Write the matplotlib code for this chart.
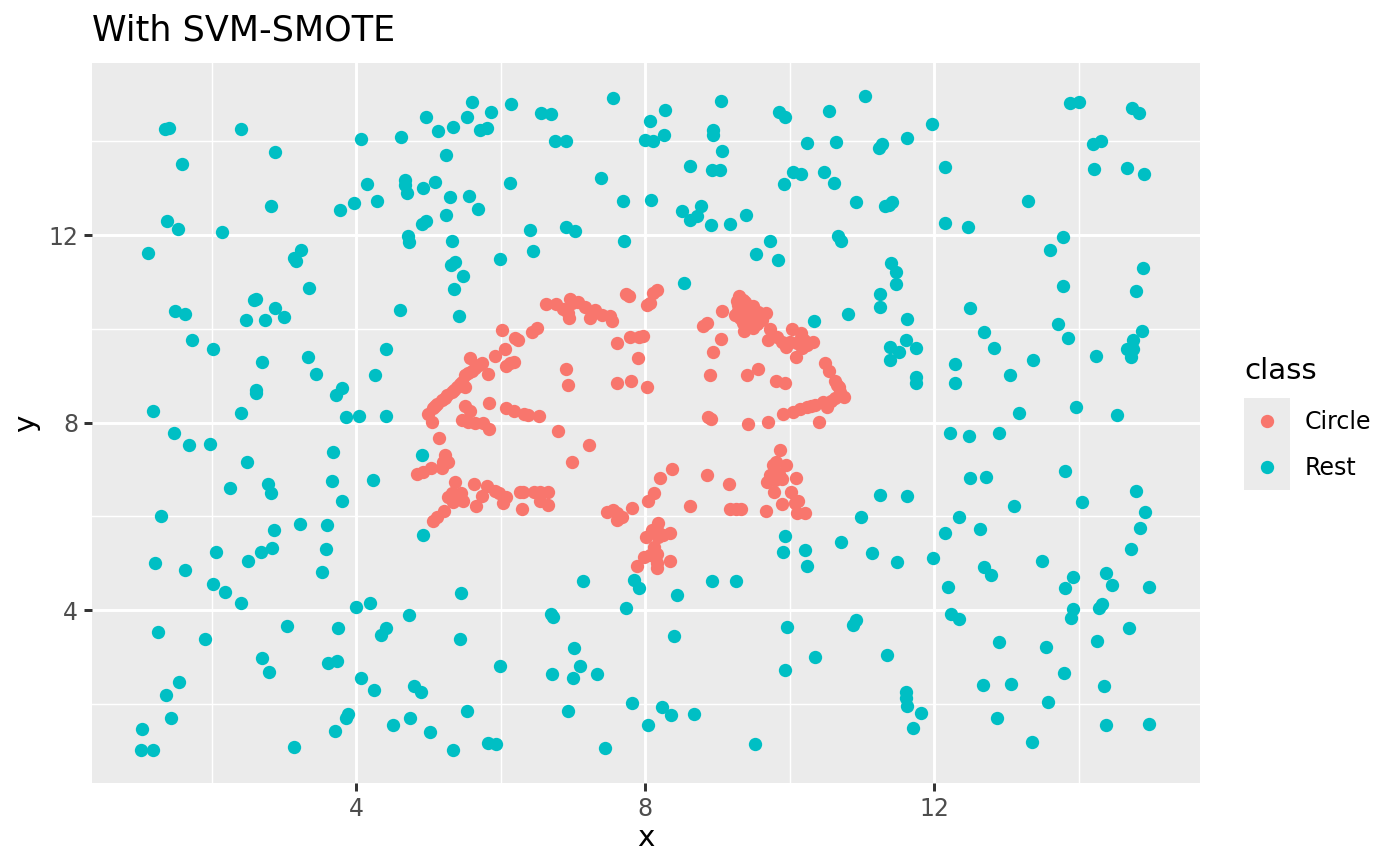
#!/usr/bin/env python3
"""Scatter of the circle class and the rest after SVM-SMOTE, ggplot look."""

import matplotlib
matplotlib.use('Agg')
import matplotlib.pyplot as plt
import numpy as np

title = 'With SVM-SMOTE'
class_names = ['Circle', 'Rest']
class_colors = ['#F8766D', '#00BFC4']
major_ticks = [4, 8, 12]
minor_ticks = [2, 6, 10, 14]

circle_points = [
    (6.63, 10.53), (6.77, 10.53), (6.87, 10.42), (6.96, 10.64), (7.07, 10.57), (6.99, 10.55),
    (6.93, 10.34), (6.95, 10.23), (6.91, 10.40), (7.17, 10.46), (7.31, 10.40), (7.24, 10.23),
    (7.40, 10.29), (7.52, 10.27), (7.54, 10.17), (7.74, 10.74), (7.78, 10.70), (6.02, 9.97),
    (6.51, 10.02), (6.44, 9.93), (6.20, 9.80), (6.24, 9.76), (6.06, 9.57), (5.92, 9.42),
    (6.19, 9.29), (6.08, 9.21), (6.13, 9.27), (5.00, 8.18), (5.07, 8.31), (5.19, 8.48),
    (5.26, 8.59), (5.33, 8.65), (5.40, 8.76), (5.47, 8.87), (5.51, 9.02), (5.55, 9.06),
    (5.65, 9.16), (5.74, 9.27), (5.58, 9.38), (5.51, 8.76), (5.83, 9.04), (5.05, 8.01),
    (5.09, 8.35), (5.51, 8.35), (5.58, 8.25), (5.84, 8.42), (5.47, 8.06), (5.55, 8.01),
    (5.65, 7.99), (5.76, 7.99), (5.84, 7.86), (6.08, 8.31), (6.19, 8.25), (6.33, 8.18),
    (6.38, 8.16), (6.53, 8.14), (6.80, 7.82), (6.91, 9.14), (6.93, 8.80), (7.61, 9.70),
    (7.79, 9.83), (7.92, 9.83), (7.90, 9.38), (7.61, 8.84), (7.81, 8.89), (8.03, 8.76),
    (7.97, 9.85), (8.17, 10.83), (8.11, 10.76), (8.07, 10.55), (8.03, 10.51), (9.07, 10.38),
    (8.80, 10.06), (8.86, 10.12), (9.05, 9.78), (8.94, 9.51), (8.90, 9.01), (8.87, 8.12),
    (8.91, 8.08), (9.41, 9.01), (9.56, 9.14), (9.43, 7.97), (9.70, 8.01), (9.81, 8.89),
    (9.94, 8.84), (9.30, 10.70), (9.36, 10.61), (9.29, 10.51), (9.41, 10.51), (9.48, 10.40),
    (9.25, 10.29), (9.34, 10.34), (9.41, 10.25), (9.52, 10.25), (9.67, 10.34), (9.31, 10.44),
    (9.45, 10.19), (9.55, 10.10), (9.62, 10.19), (9.37, 9.95), (9.36, 10.12), (9.73, 10.00),
    (9.70, 9.76), (9.83, 9.83), (9.95, 9.61), (9.90, 9.72), (10.03, 10.00), (10.16, 9.91),
    (10.01, 9.72), (10.15, 9.76), (10.33, 9.72), (10.24, 9.66), (10.17, 9.59), (10.09, 9.40),
    (10.49, 9.27), (10.55, 9.10), (10.63, 8.89), (10.69, 8.76), (10.75, 8.55), (10.63, 8.52),
    (10.52, 8.33), (10.46, 8.44), (10.35, 8.38), (10.24, 8.33), (10.15, 8.29), (10.05, 8.23),
    (9.91, 8.18), (10.41, 8.01), (5.15, 7.67), (5.23, 7.31), (5.20, 7.16), (5.27, 7.16),
    (5.19, 7.03), (5.04, 7.03), (4.93, 6.95), (4.84, 6.90), (5.37, 6.73), (5.63, 6.69),
    (5.81, 6.65), (5.74, 6.44), (5.92, 6.54), (5.98, 6.50), (6.08, 6.41), (6.03, 6.29),
    (5.66, 6.22), (5.33, 6.50), (5.27, 6.41), (5.34, 6.31), (5.45, 6.50), (5.48, 6.33),
    (5.40, 6.39), (6.27, 6.52), (6.31, 6.52), (6.46, 6.52), (6.55, 6.52), (6.66, 6.52),
    (6.55, 6.33), (6.66, 6.24), (6.30, 6.16), (6.99, 7.16), (7.22, 7.52), (5.22, 6.12),
    (5.12, 5.99), (5.07, 5.90), (7.47, 6.09), (7.56, 6.13), (7.61, 6.07), (7.61, 5.92),
    (7.68, 5.99), (7.82, 6.18), (9.87, 7.42), (9.81, 7.16), (9.77, 7.10), (9.95, 7.10),
    (9.69, 6.73), (9.73, 6.88), (9.80, 6.95), (9.90, 6.80), (9.80, 6.78), (10.09, 6.82),
    (9.79, 6.52), (10.02, 6.52), (9.90, 6.26), (10.12, 6.33), (10.08, 6.29), (10.10, 6.07),
    (10.21, 6.07), (9.67, 6.12), (9.16, 6.69), (8.86, 6.88), (8.37, 7.01), (8.21, 6.82),
    (8.12, 6.50), (8.04, 6.33), (8.62, 6.22), (9.18, 6.16), (9.26, 6.16), (9.33, 6.16),
    (8.18, 5.86), (8.10, 5.71), (8.01, 5.56), (8.18, 5.56), (8.25, 5.60), (8.35, 5.65),
    (8.17, 5.71), (8.12, 5.35), (8.17, 5.20), (8.07, 5.18), (7.99, 5.14), (7.89, 4.94),
    (8.17, 5.01), (8.17, 4.90), (8.35, 5.05), (9.38, 10.58), (9.45, 10.45), (9.38, 10.40),
    (9.28, 10.38), (9.50, 10.32), (9.42, 10.33), (5.12, 8.40), (5.23, 8.53), (5.36, 8.70),
    (5.44, 8.82), (5.60, 9.10), (5.70, 9.22), (10.30, 8.35), (10.58, 8.45), (10.70, 8.65),
    (10.66, 8.80), (10.10, 9.70), (10.20, 9.75), (9.75, 6.85), (9.85, 6.90), (9.50, 10.48),
    (9.56, 10.36), (9.60, 10.28), (9.48, 10.15), (9.40, 10.05), (9.32, 10.22), (9.27, 10.60),
    (9.33, 10.56), (9.58, 10.22), (9.50, 10.02),
]

rest_points = [
    (1.12, 11.61), (1.38, 12.30), (1.54, 12.13), (1.36, 14.26), (1.41, 14.28), (1.59, 13.51),
    (2.15, 12.07), (2.41, 14.26), (2.88, 13.77), (2.82, 12.62), (1.49, 10.38), (1.63, 10.32),
    (1.73, 9.76), (2.02, 9.57), (2.48, 10.19), (2.59, 10.61), (2.62, 10.64), (2.74, 10.19),
    (2.88, 10.44), (3.00, 10.25), (2.70, 9.29), (3.14, 11.51), (3.17, 11.44), (3.24, 11.68),
    (3.35, 10.87), (3.34, 9.40), (3.45, 9.04), (3.78, 12.53), (3.97, 12.68),
    (4.29, 12.72), (4.07, 14.05), (4.15, 13.09), (4.62, 14.09), (4.68, 13.17), (4.68, 13.07),
    (4.71, 12.89), (4.93, 13.00), (5.09, 13.13), (4.97, 14.52), (5.13, 14.22), (5.34, 14.31),
    (5.54, 14.52), (5.61, 14.84), (5.72, 14.24), (5.81, 14.28), (5.87, 14.62), (6.15, 14.79),
    (6.56, 14.60), (6.70, 14.58), (6.75, 14.00), (6.91, 14.00), (7.56, 14.92), (7.39, 13.22),
    (5.25, 13.70), (5.30, 12.81), (5.56, 12.83), (5.69, 12.55), (5.25, 12.43), (6.13, 13.11),
    (4.72, 11.98), (4.73, 11.85), (4.91, 12.23), (4.97, 12.30), (5.33, 11.87), (5.31, 11.36),
    (5.37, 11.42), (5.48, 11.13), (5.36, 10.85), (5.43, 10.27), (4.61, 10.40), (5.99, 11.49),
    (6.41, 12.11), (6.45, 11.66), (6.91, 12.17), (7.03, 12.08), (7.70, 12.73), (7.71, 11.87),
    (8.08, 12.75), (8.07, 14.43), (8.26, 14.13), (8.28, 14.66), (8.00, 14.03), (8.11, 14.01),
    (8.62, 13.47), (8.94, 14.24), (8.94, 14.13), (9.05, 14.86), (9.07, 13.79), (8.93, 13.39),
    (9.04, 13.39), (8.51, 12.51), (8.62, 12.32), (8.72, 12.40), (8.78, 12.62), (8.91, 12.22),
    (9.18, 12.24), (9.40, 12.43), (8.54, 10.97), (9.54, 11.60), (9.73, 11.87), (9.84, 11.47),
    (9.85, 14.62), (9.94, 14.51), (9.92, 13.09), (10.05, 13.34), (10.16, 13.30), (10.24, 13.96),
    (10.48, 13.34), (10.62, 13.11), (10.55, 14.64), (10.64, 13.98), (11.05, 14.96), (10.92, 12.70),
    (10.67, 11.98), (10.71, 11.87), (10.34, 10.17), (10.81, 10.32), (11.24, 13.85), (11.28, 13.94),
    (11.63, 14.07), (11.97, 14.36), (12.15, 13.45), (11.32, 12.62), (11.38, 12.64), (11.42, 12.70),
    (12.15, 12.25), (12.47, 12.17), (11.40, 11.40), (11.47, 11.21), (11.47, 10.95), (11.25, 10.74),
    (11.25, 10.47), (11.63, 10.21), (12.50, 10.44), (11.39, 9.61), (11.39, 9.33), (11.51, 9.50),
    (11.61, 9.76), (11.75, 9.59), (11.75, 8.97), (11.75, 8.84), (12.29, 9.25), (12.29, 8.84),
    (12.69, 9.93), (12.83, 9.59), (13.05, 9.01), (13.37, 9.33), (13.18, 8.20), (13.30, 12.72),
    (13.61, 11.68), (13.79, 11.96), (13.79, 10.91), (13.72, 10.10), (13.85, 9.80), (13.88, 14.81),
    (14.01, 14.83), (14.20, 13.94), (14.31, 14.01), (14.21, 13.41), (14.67, 13.43), (14.74, 14.71),
    (14.84, 14.60), (14.91, 13.30), (14.89, 11.30), (14.80, 10.81), (14.88, 9.95), (14.75, 9.76),
    (14.67, 9.57), (14.75, 9.57), (14.73, 9.40), (14.24, 9.42), (13.97, 8.33), (14.53, 8.16),
    (1.19, 8.25), (1.48, 7.78), (1.69, 7.52), (1.98, 7.54), (2.41, 8.20), (2.62, 8.70),
    (2.62, 8.63), (2.49, 7.16), (2.26, 6.61), (2.78, 6.69), (2.82, 6.50), (3.72, 8.59),
    (3.80, 8.74), (3.86, 8.12), (4.04, 8.14), (4.26, 9.01), (4.42, 9.57), (4.41, 8.14),
    (3.68, 7.37), (3.67, 6.76), (3.80, 6.33), (4.24, 6.78), (4.91, 7.31), (4.93, 5.60),
    (1.30, 6.01), (1.22, 5.01), (1.63, 4.86), (2.06, 5.24), (2.02, 4.56), (2.19, 4.39),
    (2.41, 4.15), (2.51, 5.05), (2.69, 5.24), (2.84, 5.33), (2.87, 5.71), (3.22, 5.84),
    (3.60, 5.82), (3.58, 5.31), (3.53, 4.81), (4.00, 4.07), (4.19, 4.15), (4.73, 3.90),
    (5.45, 4.37), (3.04, 3.66), (1.26, 3.54), (1.91, 3.39), (3.75, 3.62), (4.42, 3.62),
    (4.35, 3.47), (5.44, 3.39), (2.70, 2.98), (2.80, 2.68), (3.61, 2.87), (3.74, 2.92),
    (1.37, 2.19), (1.55, 2.47), (1.44, 1.70), (1.04, 1.47), (1.02, 1.02), (1.19, 1.02),
    (3.14, 1.08), (3.71, 1.42), (3.86, 1.70), (3.89, 1.79), (4.07, 2.55), (4.25, 2.30),
    (4.51, 1.55), (4.75, 1.70), (4.80, 2.38), (4.90, 2.26), (5.02, 1.40), (5.34, 1.02),
    (5.54, 1.85), (5.83, 1.17), (5.94, 1.15), (5.99, 2.81), (6.70, 3.92), (6.73, 3.86),
    (7.14, 4.62), (6.71, 2.64), (7.02, 3.19), (7.00, 2.55), (7.10, 2.81), (7.34, 2.64),
    (6.93, 1.85), (7.45, 1.06), (7.74, 4.05), (7.85, 4.64), (7.92, 4.47), (7.82, 2.02),
    (8.04, 1.55), (8.24, 1.94), (8.36, 1.77), (8.68, 1.79), (8.44, 4.32), (8.40, 3.45),
    (8.93, 4.62), (9.26, 4.62), (9.52, 1.15), (9.94, 5.58), (9.91, 5.24), (10.21, 5.28),
    (10.24, 4.94), (10.71, 5.45), (10.99, 5.99), (11.14, 5.22), (11.25, 6.46), (11.63, 6.44),
    (11.49, 5.03), (11.99, 5.11), (12.19, 4.49), (12.23, 3.92), (12.35, 3.81), (9.97, 3.64),
    (10.35, 3.00), (9.94, 2.73), (10.88, 3.68), (10.92, 3.79), (11.35, 3.05), (11.61, 2.26),
    (11.61, 2.13), (11.63, 1.96), (11.82, 1.81), (11.71, 1.49), (12.22, 7.78), (12.48, 7.71),
    (12.90, 7.78), (12.35, 5.99), (12.50, 6.82), (12.72, 6.84), (12.64, 5.73), (13.11, 6.22),
    (12.15, 5.65), (12.69, 4.92), (12.79, 4.75), (13.50, 5.05), (12.90, 3.32), (13.55, 3.22),
    (12.68, 2.41), (13.07, 2.43), (12.87, 1.70), (13.36, 1.19), (13.58, 2.04), (13.80, 2.66),
    (13.81, 4.47), (13.92, 4.71), (13.92, 4.03), (13.90, 3.83), (14.26, 3.34), (14.28, 4.05),
    (14.33, 4.13), (14.38, 4.79), (14.46, 4.54), (14.70, 3.62), (14.73, 5.31), (14.85, 5.75),
    (14.80, 6.54), (14.92, 6.09), (14.98, 4.49), (14.98, 1.57), (14.38, 1.55), (14.35, 2.38),
    (13.81, 6.97), (14.05, 6.31),
]

W, H = 1400, 866
PANEL = '#EBEBEB'
fig = plt.figure(figsize=(7, 4.33), dpi=200)
ax = fig.add_axes([92 / W, 1 - 783 / H, 1108 / W, 720 / H], facecolor=PANEL)

for name, color, points in zip(class_names, class_colors, [circle_points, rest_points]):
    xs, ys = np.array(points).T
    ax.scatter(xs, ys, s=23, color=color, linewidths=0, zorder=3, clip_on=True)

ax.set_xlim(0.346, 15.68)
ax.set_ylim(0.31, 15.67)

# ggplot grid: white major lines, thinner minor lines
ax.set_xticks(major_ticks)
ax.set_yticks(major_ticks)
ax.set_xticks(minor_ticks, minor=True)
ax.set_yticks(minor_ticks, minor=True)
ax.grid(True, which='major', color='white', linewidth=1.07)
ax.grid(True, which='minor', color='white', linewidth=0.53)
ax.set_axisbelow(True)
ax.tick_params(which='minor', length=0)
ax.tick_params(which='major', length=2.75, width=1.07, color='#333333',
               labelsize=8.5, labelcolor='#4D4D4D', pad=2.2)
for spine in ax.spines.values():
    spine.set_visible(False)

ax.set_xlabel('x', fontsize=10.6, labelpad=1.2)
ax.set_ylabel('y', fontsize=10.6, labelpad=3)
ax.set_title(title, fontsize=12.6, loc='left', pad=8.2)

# legend drawn by hand so the keys get the grey ggplot background
key_ax = fig.add_axes([1244 / W, 1 - 490 / H, 46 / W, 92 / H], facecolor=PANEL)
key_ax.set_xlim(0, 1)
key_ax.set_ylim(0, 2)
key_ax.set_xticks([])
key_ax.set_yticks([])
for spine in key_ax.spines.values():
    spine.set_visible(False)
for i, (name, color) in enumerate(zip(class_names, class_colors)):
    key_ax.scatter([0.5], [1.5 - i], s=23, color=color, linewidths=0)
    fig.text(1305 / W, 1 - (422 + 46 * i) / H, name, fontsize=8.5, va='center', ha='left')
fig.text(1244 / W, 1 - 371 / H, 'class', fontsize=10.6, va='center', ha='left')

fig.savefig('out.png', dpi=200)
